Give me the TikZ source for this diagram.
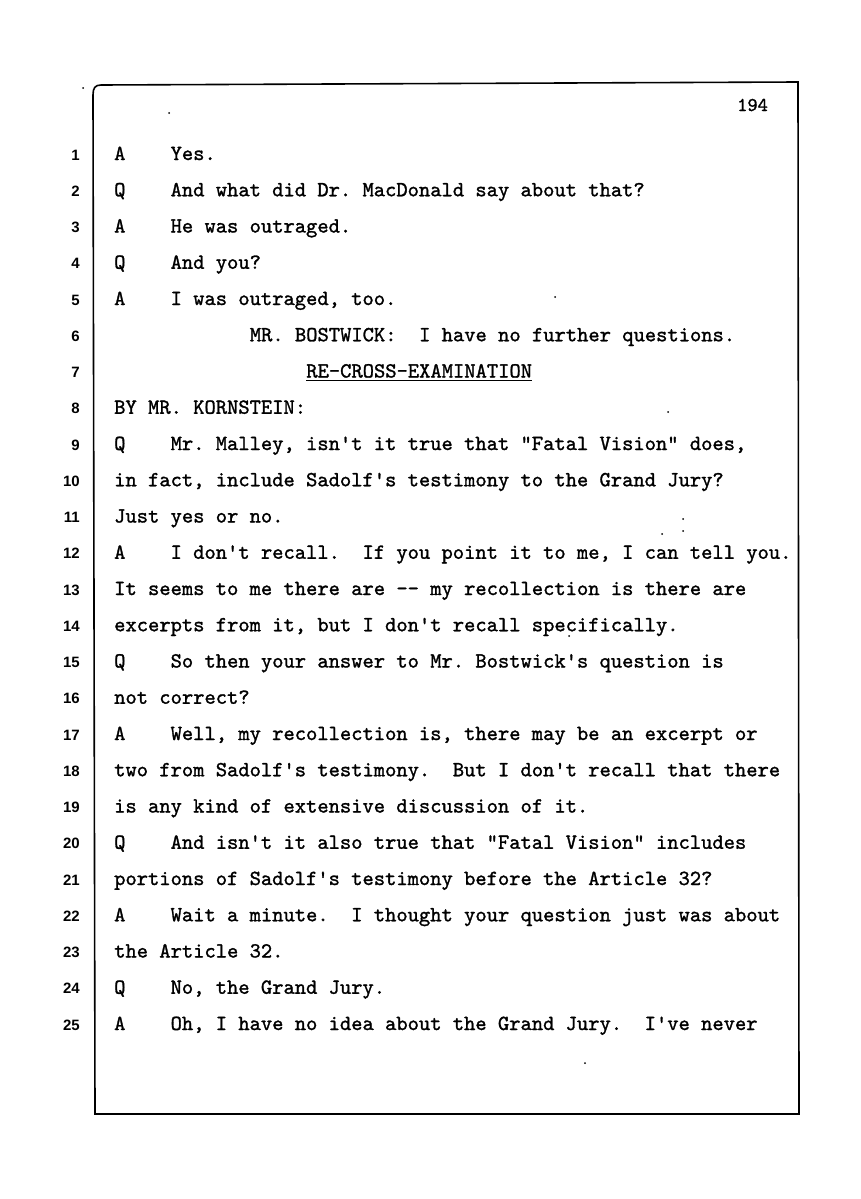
\documentclass[tikz,border=0pt]{standalone}
\usepackage{fontspec}
\setmonofont[WordSpace={1,0,0},PunctuationSpace=WordSpace,FakeBold=1.3]{lmmono10-regular.otf}
\newfontfamily\numfont{Liberation Sans}
\newcommand\TL[3]{%
  \node[txt] (l#1) at ({114+#2*11.3},{160+(#1-1)*36.25}) {#3};%
  \node[num] (n#1) at (80,{160+(#1-1)*36.25}) {#1};}
\begin{document}
\begin{tikzpicture}[x=1pt,y=-1pt,
  txt/.style={anchor=base west,inner sep=0pt,font=\ttfamily\fontsize{21.5}{22}\selectfont\frenchspacing},
  num/.style={anchor=base east,inner sep=0pt,font=\numfont\bfseries\fontsize{15}{16}\selectfont},
  frame/.style={line width=1.6pt,black},
  speck/.style={circle,fill=black,inner sep=0pt,minimum size=2pt}]
\useasboundingbox (0,0) rectangle (860,1199);
\fill[white] (0,0) rectangle (860,1199);
% frame
\draw[frame] (95,1114) -- (93,95) .. controls (93,88) and (95,85) .. (101,85) -- (798,82) -- (799,1114) -- cycle;
% page number
\node[txt,font=\ttfamily\fontsize{19.5}{20}\selectfont] (pg) at (737,111) {194};
% lines
\TL{1}{0}{A~~~~Yes.}
\TL{2}{0}{Q~~~~And what did Dr. MacDonald say about that?}
\TL{3}{0}{A~~~~He was outraged.}
\TL{4}{0}{Q~~~~And you?}
\TL{5}{0}{A~~~~I was outraged, too.}
\TL{6}{12}{MR. BOSTWICK:~ I have no further questions.}
\TL{7}{17}{RE-CROSS-EXAMINATION}
\TL{8}{0}{BY MR. KORNSTEIN:}
\TL{9}{0}{Q~~~~Mr. Malley, isn't it true that "Fatal Vision" does,}
\TL{10}{0}{in fact, include Sadolf's testimony to the Grand Jury?}
\TL{11}{0}{Just yes or no.}
\TL{12}{0}{A~~~~I don't recall.~ If you point it to me, I can tell you.}
\TL{13}{0}{It seems to me there are -{}- my recollection is there are}
\TL{14}{0}{excerpts from it, but I don't recall specifically.}
\TL{15}{0}{Q~~~~So then your answer to Mr. Bostwick's question is}
\TL{16}{0}{not correct?}
\TL{17}{0}{A~~~~Well, my recollection is, there may be an excerpt or}
\TL{18}{0}{two from Sadolf's testimony.~ But I don't recall that there}
\TL{19}{0}{is any kind of extensive discussion of it.}
\TL{20}{0}{Q~~~~And isn't it also true that "Fatal Vision" includes}
\TL{21}{0}{portions of Sadolf's testimony before the Article 32?}
\TL{22}{0}{A~~~~Wait a minute.~ I thought your question just was about}
\TL{23}{0}{the Article 32.}
\TL{24}{0}{Q~~~~No, the Grand Jury.}
\TL{25}{0}{A~~~~Oh, I have no idea about the Grand Jury.~ I've never}
% underline
\draw[line width=1.3pt] ([yshift=-3pt]l7.base west) -- ([yshift=-3pt]l7.base east);
% specks
\node[speck] (s1) at (83,88) {};
\node[speck] (s2) at (169,113) {};
\node[speck] (s3) at (555,297) {};
\node[speck] (s4) at (668,412) {};
\node[speck] (s5) at (683,519) {};
\node[speck] (s6) at (662,534) {};
\node[speck] (s7) at (683,531) {};
\node[speck] (s8) at (569,636) {};
\node[speck] (s9) at (585,1063) {};
\end{tikzpicture}
\end{document}
